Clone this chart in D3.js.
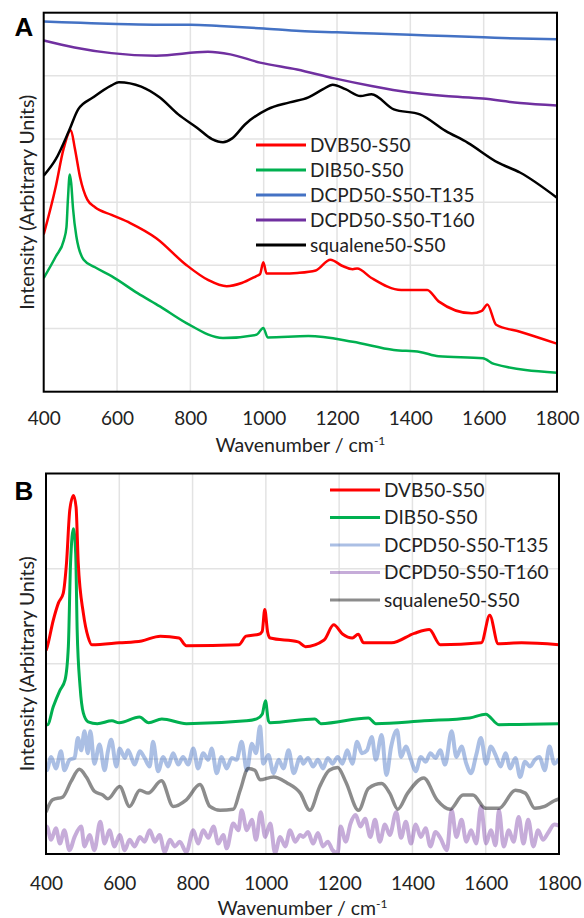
<!DOCTYPE html>
<html>
<head>
<meta charset="utf-8">
<script src="https://cdn.jsdelivr.net/npm/d3@7"></script>
<style>
  body { margin: 0; background: #fff; }
  svg text { font-family: Lato, "Open Sans", sans-serif; fill: #222; }
</style>
</head>
<body>
<svg id="chart" width="584" height="918"></svg>
<script>
// ---- data (wavenumber, intensity a.u.) ----
var xTicks = [400, 600, 800, 1000, 1200, 1400, 1600, 1800];
var seriesNames = ["DVB50-S50", "DIB50-S50", "DCPD50-S50-T135", "DCPD50-S50-T160", "squalene50-S50"];

// panel A
var dvbA = [[400,2.49],[433,3.25],[454,3.84],[474,4.14],[485,3.85],[499,3.4],[519,3.04],[540,2.92],[585,2.80],[636,2.67],[707,2.43],[788,2.01],[848,1.77],[899,1.67],[940,1.72],[980,1.83],[990,1.86],[999,2.05],[1008,1.87],[1050,1.87],[1092,1.88],[1142,1.92],[1182,2.09],[1215,1.99],[1243,1.94],[1255,1.95],[1294,1.80],[1375,1.61],[1446,1.61],[1477,1.43],[1568,1.24],[1595,1.28],[1610,1.38],[1634,1.06],[1699,0.95],[1800,0.76]];
var dibA = [[400,1.80],[433,2.14],[455,2.4],[462,2.6],[466,3.04],[471,3.44],[475,3.3],[480,2.9],[489,2.46],[509,2.09],[540,1.97],[585,1.83],[656,1.56],[717,1.35],[788,1.09],[889,0.85],[980,0.90],[999,1.01],[1011,0.86],[1122,0.88],[1243,0.79],[1355,0.66],[1426,0.63],[1477,0.56],[1598,0.53],[1628,0.44],[1800,0.30]];
var t135A = [[400,5.86],[500,5.84],[600,5.82],[700,5.81],[800,5.81],[880,5.79],[1000,5.75],[1100,5.71],[1200,5.69],[1300,5.67],[1400,5.65],[1500,5.63],[1600,5.61],[1700,5.59],[1800,5.58]];
var t160A = [[400,5.56],[484,5.45],[585,5.36],[707,5.32],[848,5.38],[909,5.34],[990,5.21],[1091,5.10],[1193,4.96],[1294,4.84],[1395,4.74],[1496,4.68],[1597,4.64],[1699,4.57],[1800,4.53]];
var squalA = [[400,3.42],[433,3.68],[469,4.13],[494,4.47],[535,4.66],[585,4.85],[605,4.90],[666,4.83],[716,4.66],[767,4.39],[818,4.18],[859,4.0],[889,3.95],[914,4.01],[949,4.23],[1010,4.47],[1071,4.58],[1122,4.66],[1162,4.79],[1188,4.86],[1223,4.79],[1264,4.68],[1294,4.71],[1355,4.47],[1426,4.39],[1496,4.13],[1557,3.94],[1638,3.63],[1699,3.47],[1800,3.07]];

// panel B
var dvbB = [[400,2.14],[402,2.16],[420,2.46],[434,2.64],[447,2.74],[456,3.06],[465,3.62],[475,3.77],[482,3.65],[488,3.06],[502,2.53],[515,2.28],[525,2.20],[600,2.22],[661,2.24],[712,2.29],[763,2.27],[783,2.19],[926,2.20],[946,2.29],[981,2.31],[990,2.34],[997,2.57],[1005,2.33],[1012,2.27],[1088,2.23],[1108,2.18],[1159,2.25],[1185,2.41],[1210,2.31],[1236,2.27],[1252,2.31],[1267,2.22],[1343,2.22],[1405,2.32],[1446,2.36],[1476,2.20],[1588,2.22],[1611,2.51],[1634,2.21],[1698,2.22],[1800,2.20]];
var dibB = [[400,1.36],[404,1.36],[420,1.55],[438,1.72],[452,1.83],[461,2.18],[467,3.06],[475,3.42],[481,3.16],[485,2.36],[493,1.76],[502,1.48],[515,1.39],[540,1.37],[580,1.40],[600,1.38],[655,1.44],[680,1.38],[716,1.42],[783,1.37],[946,1.40],[975,1.42],[990,1.47],[999,1.61],[1007,1.40],[1012,1.38],[1134,1.42],[1150,1.37],[1280,1.43],[1300,1.37],[1432,1.40],[1556,1.43],[1600,1.47],[1636,1.36],[1800,1.37]];
var t135B = [[400,0.90],[402,0.88],[414,1.02],[427,0.90],[441,1.08],[450,0.88],[464,0.99],[478,1.01],[487,1.22],[496,1.09],[505,1.29],[514,1.06],[521,1.29],[532,0.95],[546,1.15],[560,0.88],[569,1.08],[578,1.20],[592,0.92],[601,1.11],[615,1.01],[624,1.09],[642,0.94],[656,1.08],[669,1.01],[683,0.92],[692,1.18],[706,0.87],[720,1.02],[733,0.92],[747,1.06],[761,0.94],[774,1.02],[788,0.94],[802,1.11],[815,0.90],[829,1.06],[843,0.99],[852,1.11],[866,0.85],[879,1.02],[893,0.90],[907,1.01],[920,0.99],[934,1.18],[948,0.88],[962,1.16],[973,1.06],[984,1.34],[993,0.95],[1007,1.04],[1021,0.85],[1035,0.99],[1048,0.90],[1062,1.09],[1076,0.85],[1094,1.02],[1102,0.95],[1115,1.01],[1129,0.92],[1142,0.99],[1156,0.90],[1169,1.01],[1182,0.95],[1196,1.02],[1209,0.95],[1222,1.09],[1236,0.95],[1249,1.18],[1262,1.06],[1276,1.09],[1289,1.23],[1300,0.99],[1316,1.25],[1329,0.83],[1342,1.13],[1358,1.30],[1369,1.02],[1382,1.13],[1396,0.99],[1409,0.87],[1423,1.02],[1436,0.97],[1449,1.06],[1463,1.01],[1476,1.09],[1489,0.94],[1507,1.29],[1520,1.02],[1534,1.13],[1547,0.95],[1560,0.85],[1574,1.04],[1587,1.22],[1601,0.95],[1614,1.13],[1627,1.04],[1641,0.92],[1654,1.06],[1667,0.90],[1681,1.01],[1694,0.81],[1707,0.97],[1721,0.92],[1734,0.99],[1747,1.02],[1761,0.88],[1774,1.13],[1787,0.95],[1800,1.00]];
var t160B = [[400,0.27],[402,0.29],[414,0.15],[427,0.27],[438,0.11],[450,0.25],[464,0.04],[478,0.18],[496,0.29],[505,0.08],[519,0.20],[532,0.04],[548,0.34],[560,0.11],[573,0.25],[587,0.08],[601,0.20],[615,0.04],[628,0.15],[642,0.08],[656,0.18],[669,0.13],[683,0.25],[697,0.13],[710,0.20],[724,0.02],[738,0.15],[752,0.08],[765,0.13],[783,0.02],[802,0.25],[815,0.11],[829,0.25],[843,0.17],[857,0.29],[870,0.11],[884,0.20],[893,0.06],[911,0.32],[925,0.25],[934,0.46],[948,0.25],[962,0.36],[973,0.15],[986,0.44],[998,0.18],[1012,0.32],[1025,0.01],[1039,0.18],[1053,0.08],[1066,0.25],[1080,0.13],[1094,0.20],[1102,0.18],[1115,0.23],[1129,0.11],[1142,0.22],[1156,0.08],[1169,0.13],[1182,0.04],[1196,0.01],[1204,0.29],[1218,0.13],[1231,0.32],[1245,0.41],[1258,0.29],[1271,0.37],[1285,0.18],[1298,0.36],[1311,0.13],[1325,0.31],[1338,0.20],[1356,0.44],[1369,0.17],[1382,0.34],[1396,0.11],[1409,0.31],[1423,0.18],[1436,0.27],[1449,0.08],[1463,0.23],[1476,0.17],[1494,0.04],[1507,0.46],[1520,0.18],[1534,0.36],[1547,0.13],[1560,0.25],[1574,0.11],[1587,0.50],[1601,0.11],[1614,0.25],[1627,0.09],[1636,0.46],[1649,0.08],[1663,0.25],[1676,0.13],[1690,0.39],[1703,0.11],[1716,0.36],[1730,0.08],[1743,0.25],[1756,0.15],[1770,0.22],[1787,0.31],[1800,0.30]];
var squalB = [[400,0.44],[402,0.46],[418,0.57],[446,0.60],[468,0.76],[491,0.89],[510,0.81],[532,0.66],[555,0.62],[569,0.58],[601,0.71],[628,0.50],[656,0.67],[679,0.64],[715,0.77],[747,0.50],[783,0.57],[820,0.73],[847,0.50],[875,0.46],[911,0.47],[930,0.67],[952,0.90],[970,0.88],[984,0.78],[1021,0.81],[1057,0.75],[1094,0.64],[1120,0.46],[1147,0.71],[1173,0.88],[1196,0.91],[1218,0.76],[1253,0.46],[1280,0.69],[1316,0.74],[1338,0.64],[1360,0.47],[1387,0.64],[1431,0.80],[1467,0.57],[1503,0.47],[1538,0.62],[1565,0.62],[1600,0.48],[1636,0.48],[1681,0.67],[1708,0.64],[1734,0.48],[1761,0.50],[1787,0.56],[1800,0.58]];

var svg = d3.select("#chart");

function panel(opt) {
  var x = d3.scaleLinear().domain([400, 1800]).range([opt.left, opt.right]);
  var y = d3.scaleLinear().domain([0, opt.ymax]).range([opt.bottom, opt.top]);
  var g = svg.append("g");

  g.append("clipPath").attr("id", opt.id + "clip")
    .append("rect")
      .attr("x", opt.left).attr("y", opt.top)
      .attr("width", opt.right - opt.left).attr("height", opt.bottom - opt.top);

  // grid
  g.selectAll(".vgrid").data(xTicks.slice(1, -1))
    .enter().append("line")
      .attr("x1", x).attr("x2", x)
      .attr("y1", opt.top).attr("y2", opt.bottom)
      .attr("stroke", "#e3e3e3").attr("stroke-width", 1.5);
  g.selectAll(".hgrid").data(d3.range(1, opt.ymax))
    .enter().append("line")
      .attr("x1", opt.left).attr("x2", opt.right)
      .attr("y1", y).attr("y2", y)
      .attr("stroke", "#e3e3e3").attr("stroke-width", 1.5);

  var line = d3.line()
    .curve(d3.curveMonotoneX)
    .x(function(d) { return x(d[0]); })
    .y(function(d) { return y(d[1]); });

  var lines = g.append("g").attr("clip-path", "url(#" + opt.id + "clip)");
  opt.order.forEach(function(i) {
    lines.append("path")
      .datum(opt.data[i])
      .attr("d", line)
      .attr("fill", "none")
      .attr("stroke", opt.colors[i])
      .attr("stroke-opacity", opt.opac[i])
      .attr("stroke-width", opt.widths[i])
      .attr("stroke-linejoin", "round");
  });

  // frame
  g.append("rect")
    .attr("x", opt.left).attr("y", opt.top)
    .attr("width", opt.right - opt.left).attr("height", opt.bottom - opt.top)
    .attr("fill", "none").attr("stroke", "#000").attr("stroke-width", 2);

  // x axis labels
  var axis = g.append("g")
    .attr("transform", "translate(0," + opt.bottom + ")")
    .call(d3.axisBottom(x).tickValues(xTicks).tickSize(0).tickPadding(opt.pad).tickFormat(d3.format("d")));
  axis.select(".domain").remove();
  axis.selectAll("text")
    .style("font-family", "Lato, sans-serif")
    .style("font-size", "19px")
    .attr("fill", "#222");

  g.append("text")
    .attr("x", (opt.left + opt.right) / 2)
    .attr("y", opt.titleY)
    .attr("text-anchor", "middle")
    .style("font-size", "19.5px")
    .text("Wavenumber / cm")
    .append("tspan")
      .attr("dy", -7)
      .style("font-size", "12px")
      .text("-1");

  g.append("text")
    .attr("transform", "translate(" + opt.ytX + "," + (opt.top + opt.bottom) / 2 + ") rotate(-90)")
    .attr("text-anchor", "middle")
    .style("font-size", "19.5px")
    .text("Intensity (Arbitrary Units)");

  g.append("text")
    .attr("x", 24).attr("y", opt.letterY)
    .attr("text-anchor", "middle")
    .style("font-family", "'Liberation Sans', Arial, sans-serif")
    .style("font-weight", "bold")
    .style("font-size", "26px")
    .style("fill", "#000")
    .text(opt.letter);

  // legend
  var leg = g.selectAll(".leg").data(seriesNames)
    .enter().append("g")
      .attr("transform", function(d, i) { return "translate(" + opt.legX + "," + (opt.legY + i * opt.legStep) + ")"; });
  leg.append("line")
    .attr("x1", 0).attr("x2", 50)
    .attr("stroke", function(d, i) { return opt.colors[i]; })
    .attr("stroke-opacity", function(d, i) { return opt.opac[i]; })
    .attr("stroke-width", 3);
  leg.append("text")
    .attr("x", 54).attr("dy", "0.35em")
    .style("font-size", "19px")
    .text(function(d) { return d; });
}

panel({
  id: "A", letter: "A", letterY: 36,
  left: 43.7, right: 557, top: 12.7, bottom: 391.7, ymax: 6,
  pad: 20, titleY: 452, ytX: 34,
  data: [dvbA, dibA, t135A, t160A, squalA],
  colors: ["#ff0000", "#00b050", "#4472c4", "#7030a0", "#000000"],
  opac: [1, 1, 1, 1, 1],
  widths: [2.5, 2.5, 2.5, 2.5, 2.5],
  order: [0, 1, 2, 3, 4],
  legX: 256, legY: 145, legStep: 25
});

panel({
  id: "B", letter: "B", letterY: 500,
  left: 46, right: 559, top: 473.5, bottom: 854, ymax: 4,
  pad: 23, titleY: 915, ytX: 34,
  data: [dvbB, dibB, t135B, t160B, squalB],
  colors: ["#ff0000", "#00b050", "#4472c4", "#7030a0", "#000000"],
  opac: [1, 1, 0.45, 0.4, 0.45],
  widths: [3, 3, 4, 4, 3.5],
  order: [2, 3, 4, 1, 0],
  legX: 330, legY: 490, legStep: 27.5
});
</script>
</body>
</html>
